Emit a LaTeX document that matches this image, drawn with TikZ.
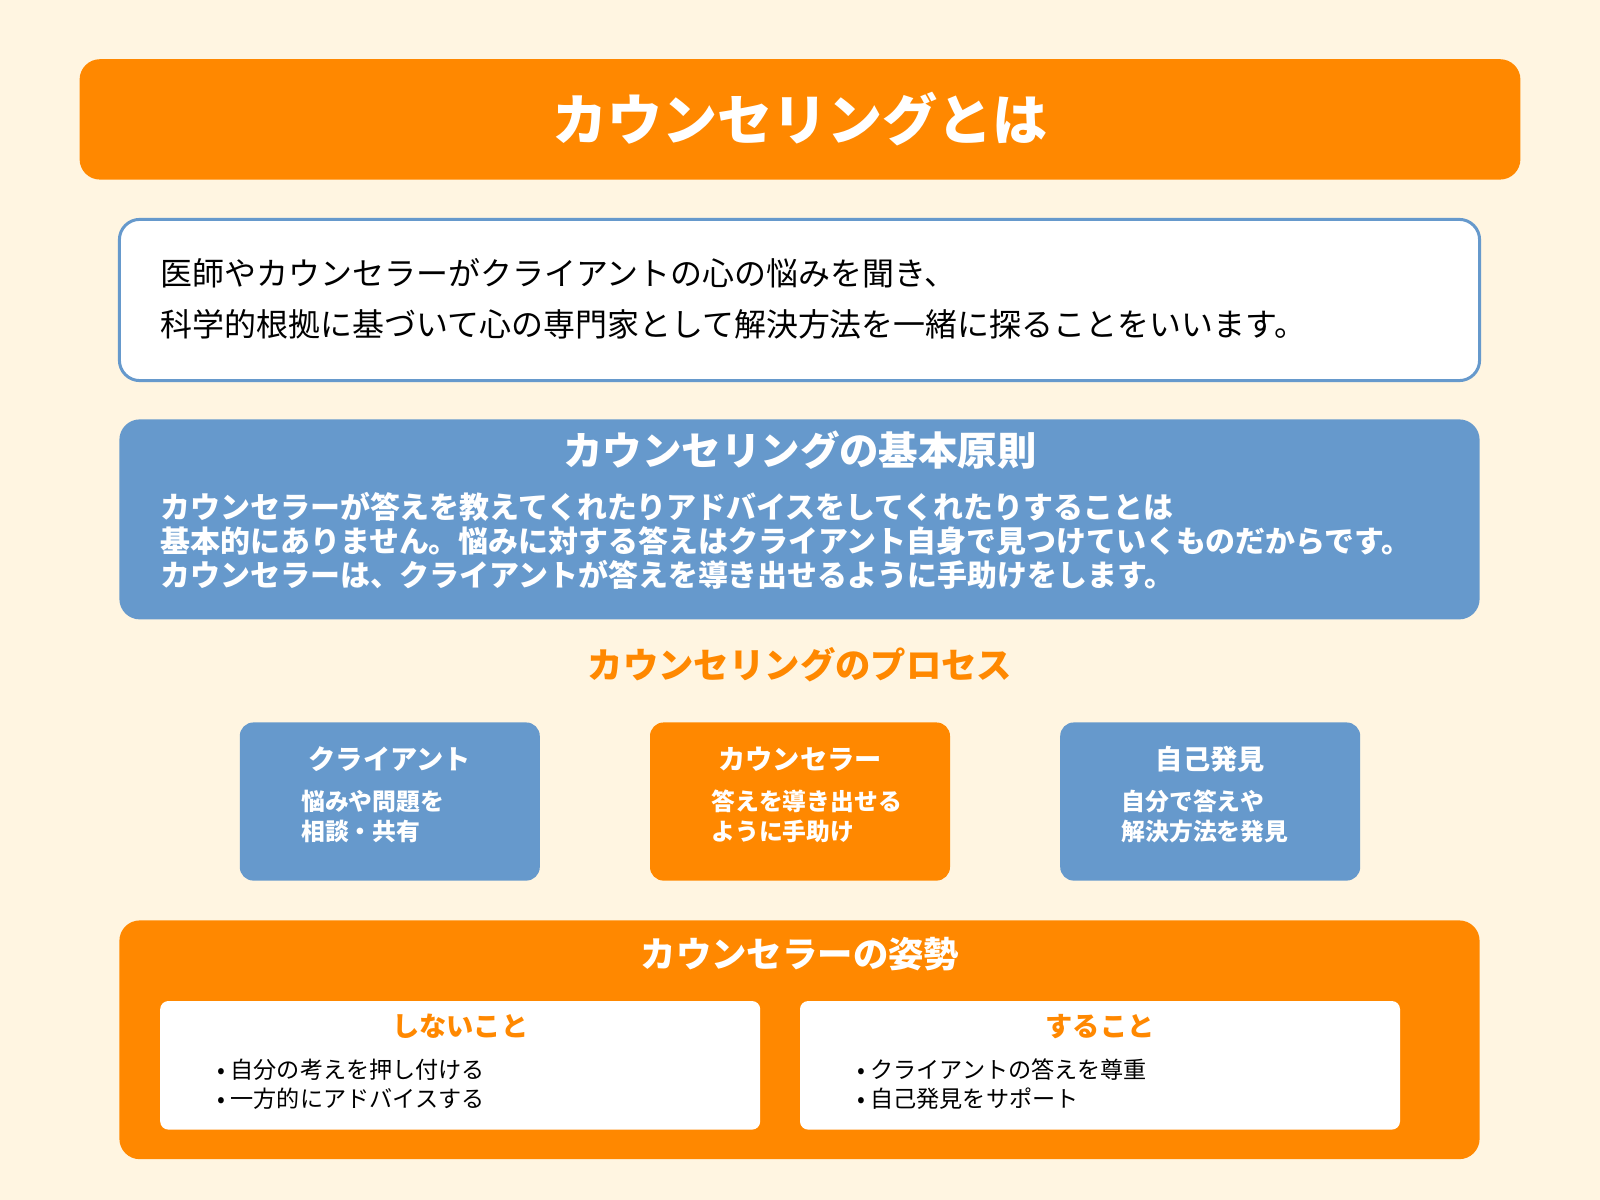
\documentclass[tikz,border=0pt]{standalone}
\usepackage{fontspec}
\setmainfont{Noto Sans CJK JP}
\definecolor{bgcream}{HTML}{FFF5E1}
\definecolor{orangemain}{HTML}{FF8800}
\definecolor{bluemain}{HTML}{6699CC}

\begin{document}
\begin{tikzpicture}[x=0.75pt,y=-0.75pt,
  wide/.style={rounded corners=15pt,minimum width=999.75pt,inner sep=0pt},
  procbox/.style={rounded corners=10pt,minimum width=220.5pt,minimum height=116.25pt,inner sep=0pt},
  innerbox/.style={rounded corners=6pt,fill=white,minimum width=441pt,minimum height=94.5pt,inner sep=0pt},
  bodytext/.style={anchor=west,inner sep=0pt,font=\fontsize{23.5}{28}\selectfont},
  princtext/.style={anchor=west,inner sep=0pt,text=white,font=\bfseries\fontsize{22}{26}\selectfont},
  boxhead/.style={text=white,inner sep=0pt,font=\bfseries\fontsize{20}{24}\selectfont},
  boxdesc/.style={anchor=west,inner sep=0pt,text=white,align=left,font=\bfseries\fontsize{17.5}{22.5}\selectfont},
  bullet/.style={anchor=west,inner sep=0pt,font=\fontsize{17}{22}\selectfont}]
  \useasboundingbox[fill=bgcream] (0,0) rectangle (1568,1176);

  % title
  \node[fill=orangemain,rounded corners=15pt,minimum width=1059pt,minimum height=88.5pt] (title) at (784,117) {};
  \node[text=white,font=\bfseries\fontsize{40.5}{46}\selectfont] (titletext) at (784,117) {カウンセリングとは};

  % intro
  \node[wide,draw=bluemain,line width=2.2pt,fill=white,minimum height=118.5pt] (intro) at (783.5,294) {};
  \node[bodytext] (intro1) at (157,268) {医師やカウンセラーがクライアントの心の悩みを聞き、};
  \node[bodytext] (intro2) at (157,318) {科学的根拠に基づいて心の専門家として解決方法を一緒に探ることをいいます。};

  % principles
  \node[wide,fill=bluemain,minimum height=147pt] (princ) at (783.5,509) {};
  \node[text=white,font=\bfseries\fontsize{29}{34}\selectfont] (princhead) at (784,441) {カウンセリングの基本原則};
  \node[princtext] (princ1) at (157,497) {カウンセラーが答えを教えてくれたりアドバイスをしてくれたりすることは};
  \node[princtext] (princ2) at (157,530) {基本的にありません。悩みに対する答えはクライアント自身で見つけていくものだからです。};
  \node[princtext] (princ3) at (157,563) {カウンセラーは、クライアントが答えを導き出せるように手助けをします。};

  % process
  \node[text=orangemain,font=\bfseries\fontsize{26}{30}\selectfont] (prochead) at (784,651) {カウンセリングのプロセス};
  \node[procbox,fill=bluemain] (client) at (382,785.5) {};
  \node[procbox,fill=orangemain] (counselor) at (784,785.5) {};
  \node[procbox,fill=bluemain] (insight) at (1186,785.5) {};
  \node[boxhead] (clienthead) at (382,744) {クライアント};
  \node[boxhead] (counselorhead) at (784,744) {カウンセラー};
  \node[boxhead] (insighthead) at (1186,744) {自己発見};
  \node[boxdesc] (clientdesc) at (295,800) {悩みや問題を\\相談・共有};
  \node[boxdesc] (counselordesc) at (697,800) {答えを導き出せる\\ように手助け};
  \node[boxdesc] (insightdesc) at (1099,800) {自分で答えや\\解決方法を発見};

  % attitude
  \node[wide,fill=orangemain,minimum height=175.5pt] (attitude) at (783.5,1019) {};
  \node[text=white,font=\bfseries\fontsize{26}{30}\selectfont] (attitudehead) at (784,935) {カウンセラーの姿勢};
  \node[innerbox] (dont) at (451,1044) {};
  \node[innerbox] (do) at (1078,1044) {};
  \node[text=orangemain,font=\bfseries\fontsize{20}{24}\selectfont] (donthead) at (451,1006) {しないこと};
  \node[text=orangemain,font=\bfseries\fontsize{20}{24}\selectfont] (dohead) at (1078,1006) {すること};
  \node[bullet] (dont1) at (213,1048) {• 自分の考えを押し付ける};
  \node[bullet] (dont2) at (213,1077) {• 一方的にアドバイスする};
  \node[bullet] (do1) at (840,1048) {• クライアントの答えを尊重};
  \node[bullet] (do2) at (840,1077) {• 自己発見をサポート};
\end{tikzpicture}
\end{document}
